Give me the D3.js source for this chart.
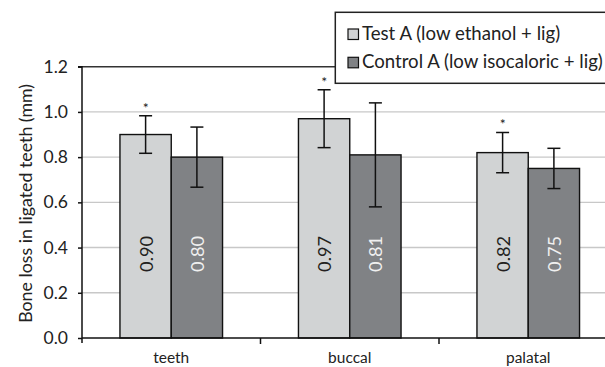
<!DOCTYPE html>
<html>
<head>
<meta charset="utf-8">
<script src="https://cdn.jsdelivr.net/npm/d3@7"></script>
<style>
  html, body { margin: 0; padding: 0; background: #fff; }
  svg { display: block; }
  text { font-family: Lato, "Open Sans", sans-serif; }
</style>
</head>
<body>
<svg id="chart" width="605" height="367"></svg>
<script>
const categories = ["teeth", "buccal", "palatal"];
const seriesNames = ["Test A (low ethanol + lig)", "Control A (low isocaloric + lig)"];
const testA = [0.90, 0.97, 0.82];
const testAErr = [0.083, 0.128, 0.089];
const controlA = [0.80, 0.81, 0.75];
const controlAErr = [0.133, 0.23, 0.089];
const testASignificant = [true, true, true];
const yTicks = [0.0, 0.2, 0.4, 0.6, 0.8, 1.0, 1.2];
const yTitle = "Bone loss in ligated teeth (mm)";

const colors = ["#d1d3d4", "#808285"];
const labelColors = ["#231f20", "#f0f0f0"];

const svg = d3.select("#chart");
const W = 605, H = 367;
const m = { left: 82, top: 66.7, bottom: 338, rightPlot: 617.5 };

// scale a text's font size so its rendered length matches a target width
function fitWidth(sel, target) {
  sel.each(function () {
    const base = parseFloat(this.getAttribute("font-size"));
    const len = this.getComputedTextLength();
    if (len > 0) this.setAttribute("font-size", (base * target / len).toFixed(2));
  });
}

const x = d3.scaleBand().domain(categories).range([m.left, m.rightPlot]).padding(0);
const xs = d3.scaleBand().domain([0, 1]).range([0, x.bandwidth()]).paddingInner(0).paddingOuter(0.74);
const y = d3.scaleLinear().domain([0, 1.2]).range([m.bottom, m.top]);

const data = categories.map((c, i) => ({
  cat: c,
  vals: [
    { s: 0, v: testA[i], e: testAErr[i], star: testASignificant[i] },
    { s: 1, v: controlA[i], e: controlAErr[i], star: false }
  ]
}));

// gridlines
svg.append("g").selectAll("line").data(yTicks.filter(t => t > 0 && t < 1.2)).join("line")
  .attr("x1", m.left).attr("x2", W)
  .attr("y1", d => y(d)).attr("y2", d => y(d))
  .attr("stroke", "#c8c8c8").attr("stroke-width", 1.4);

// top border
svg.append("line").attr("x1", m.left).attr("x2", W).attr("y1", y(1.2)).attr("y2", y(1.2))
  .attr("stroke", "#333").attr("stroke-width", 1.5);

// bars
const groups = svg.append("g").selectAll("g").data(data).join("g")
  .attr("transform", d => `translate(${x(d.cat)},0)`);

groups.selectAll("rect").data(d => d.vals).join("rect")
  .attr("x", d => xs(d.s)).attr("width", xs.bandwidth())
  .attr("y", d => y(d.v)).attr("height", d => y(0) - y(d.v))
  .attr("fill", d => colors[d.s]).attr("stroke", "#111").attr("stroke-width", 1.4);

// value labels
const vl = groups.selectAll("text.val").data(d => d.vals).join("text").attr("class", "val")
  .attr("transform", d => `translate(${xs(d.s) + xs.bandwidth() / 2 + 7},${y(0.372)}) rotate(-90)`)
  .attr("text-anchor", "middle")
  .attr("font-size", 17).attr("fill", d => labelColors[d.s])
  .text(d => d.v.toFixed(2));
fitWidth(vl, 36);

// error bars
const eb = groups.selectAll("g.err").data(d => d.vals).join("g").attr("class", "err")
  .attr("stroke", "#111").attr("stroke-width", 1.5);
eb.append("line")
  .attr("x1", d => xs(d.s) + xs.bandwidth() / 2).attr("x2", d => xs(d.s) + xs.bandwidth() / 2)
  .attr("y1", d => y(d.v + d.e)).attr("y2", d => y(d.v - d.e));
eb.append("line")
  .attr("x1", d => xs(d.s) + xs.bandwidth() / 2 - 6.5).attr("x2", d => xs(d.s) + xs.bandwidth() / 2 + 6.5)
  .attr("y1", d => y(d.v + d.e)).attr("y2", d => y(d.v + d.e));
eb.append("line")
  .attr("x1", d => xs(d.s) + xs.bandwidth() / 2 - 6.5).attr("x2", d => xs(d.s) + xs.bandwidth() / 2 + 6.5)
  .attr("y1", d => y(d.v - d.e)).attr("y2", d => y(d.v - d.e));

// significance stars
groups.selectAll("text.star").data(d => d.vals.filter(v => v.star)).join("text").attr("class", "star")
  .attr("x", d => xs(d.s) + xs.bandwidth() / 2)
  .attr("y", d => y(d.v + d.e) - 3)
  .attr("text-anchor", "middle").attr("font-size", 14).attr("fill", "#222")
  .text("*");

// y axis
const yAxis = svg.append("g").attr("transform", `translate(${m.left},0)`)
  .call(d3.axisLeft(y).tickValues(yTicks).tickFormat(d3.format(".1f")).tickSize(4).tickPadding(10));
yAxis.select(".domain").attr("stroke", "#111").attr("stroke-width", 1.5).attr("d", `M-4,${y(1.2)}H0V${m.bottom + 5}`);
yAxis.selectAll(".tick line").attr("stroke", "#111").attr("stroke-width", 1.5);
yAxis.selectAll(".tick text").attr("font-size", 17.5).attr("fill", "#222").attr("font-family", "Lato, sans-serif");

// x axis
svg.append("line").attr("x1", m.left).attr("x2", W).attr("y1", y(0)).attr("y2", y(0))
  .attr("stroke", "#111").attr("stroke-width", 1.5);
svg.append("g").selectAll("line").data(categories.slice(1)).join("line")
  .attr("x1", d => x(d)).attr("x2", d => x(d))
  .attr("y1", y(0)).attr("y2", y(0) + 6)
  .attr("stroke", "#111").attr("stroke-width", 1.5);
const cl = svg.append("g").selectAll("text").data(categories).join("text")
  .attr("x", d => x(d) + x.bandwidth() / 2).attr("y", 363)
  .attr("text-anchor", "middle").attr("font-size", 16).attr("fill", "#222")
  .text(d => d);
fitWidth(cl.filter(d => d === "teeth"), 36);
cl.attr("font-size", cl.filter(d => d === "teeth").attr("font-size"));

// y title
const yt = svg.append("text")
  .attr("transform", `translate(31.5,${(m.top + m.bottom) / 2 + 1}) rotate(-90)`)
  .attr("text-anchor", "middle").attr("font-size", 15.5).attr("fill", "#222")
  .text(yTitle);
fitWidth(yt, 239);

// legend
const lg = svg.append("g");
lg.append("rect").attr("x", 335.3).attr("y", 12.3).attr("width", 300).attr("height", 71)
  .attr("fill", "#fff").attr("stroke", "#222").attr("stroke-width", 1.5);
const items = lg.selectAll("g").data(seriesNames).join("g")
  .attr("transform", (d, i) => `translate(348,${29 + i * 28.3})`);
items.append("rect").attr("width", 10.5).attr("height", 10.5)
  .attr("fill", (d, i) => colors[i]).attr("stroke", "#111").attr("stroke-width", 1.2);
const lt = items.append("text").attr("x", 14).attr("y", 11).attr("font-size", 16).attr("fill", "#222")
  .text(d => d);
fitWidth(lt.filter((d, i) => i === 1), 241);
lt.attr("font-size", lt.filter((d, i) => i === 1).attr("font-size"));
</script>
</body>
</html>
